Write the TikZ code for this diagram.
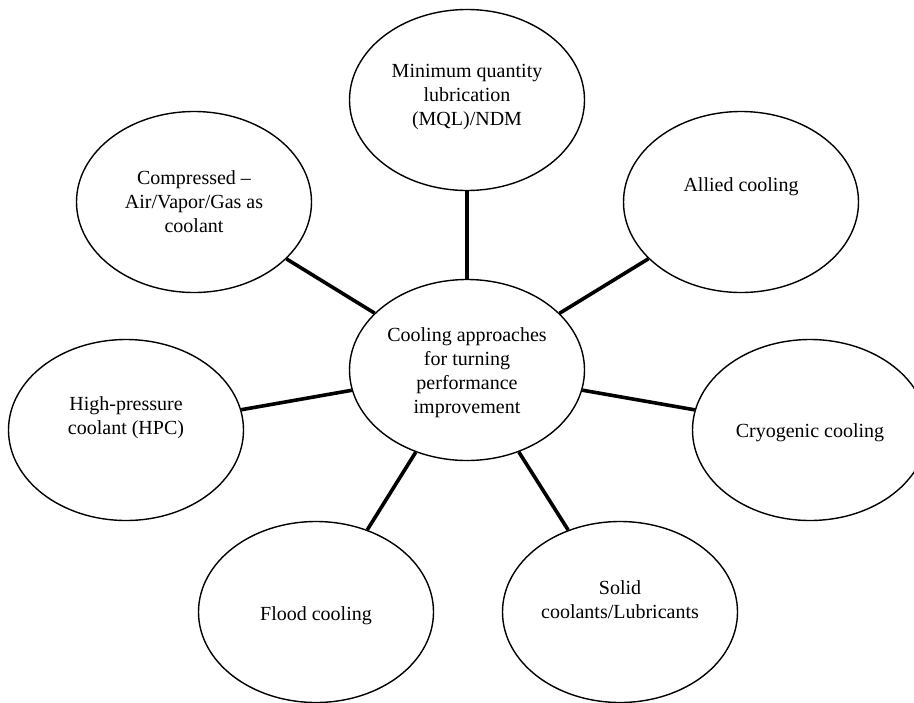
\documentclass[tikz,border=0pt]{standalone}
\usepackage{fontspec}
\setmainfont{Liberation Serif}
\usetikzlibrary{shapes.geometric}

\tikzset{
  bubble/.style={ellipse, draw, line width=0.7pt, minimum width=117.5pt, minimum height=90.5pt, inner sep=0pt},
  caption/.style={align=center, font=\fontsize{10}{12}\selectfont, inner sep=0pt},
  spoke/.style={line width=1.8pt}
}

\begin{document}
\begin{tikzpicture}[x=0.5pt, y=-0.5pt]
  \clip (0,0) rectangle (914,702);
  \fill[white] (0,0) rectangle (914,702);
  % Ellipses
  \node[bubble] (centre) at (467,370) {};
  \node[bubble] (mql) at (467,100) {};
  \node[bubble] (allied) at (741,202) {};
  \node[bubble] (cryo) at (810,430) {};
  \node[bubble] (solid) at (620,612) {};
  \node[bubble] (flood) at (316,612) {};
  \node[bubble] (hpc) at (126,430) {};
  \node[bubble] (compressed) at (194,202) {};
  % Texts
  \node[caption] (centre-t) at ([yshift=-1.5pt]centre) {Cooling approaches\\for turning\\performance\\improvement};
  \node[caption] (mql-t) at ([yshift=1.5pt]mql) {Minimum quantity\\lubrication\\(MQL)/NDM};
  \node[caption] (allied-t) at ([yshift=7.5pt]allied) {Allied cooling};
  \node[caption] (cryo-t) at ([yshift=-1.5pt]cryo) {Cryogenic cooling};
  \node[caption] (solid-t) at ([yshift=6pt]solid) {Solid\\coolants/Lubricants};
  \node[caption] (flood-t) at ([yshift=-2pt]flood) {Flood cooling};
  \node[caption] (hpc-t) at ([yshift=6pt]hpc) {High-pressure\\coolant (HPC)};
  \node[caption] (compressed-t) at (compressed) {Compressed --\\Air/Vapor/Gas as\\coolant};
  % Spokes
  \draw[spoke] (centre) -- (mql);
  \draw[spoke] (centre) -- (allied);
  \draw[spoke] (centre) -- (cryo);
  \draw[spoke] (centre) -- (solid);
  \draw[spoke] (centre) -- (flood);
  \draw[spoke] (centre) -- (hpc);
  \draw[spoke] (centre) -- (compressed);
\end{tikzpicture}
\end{document}
